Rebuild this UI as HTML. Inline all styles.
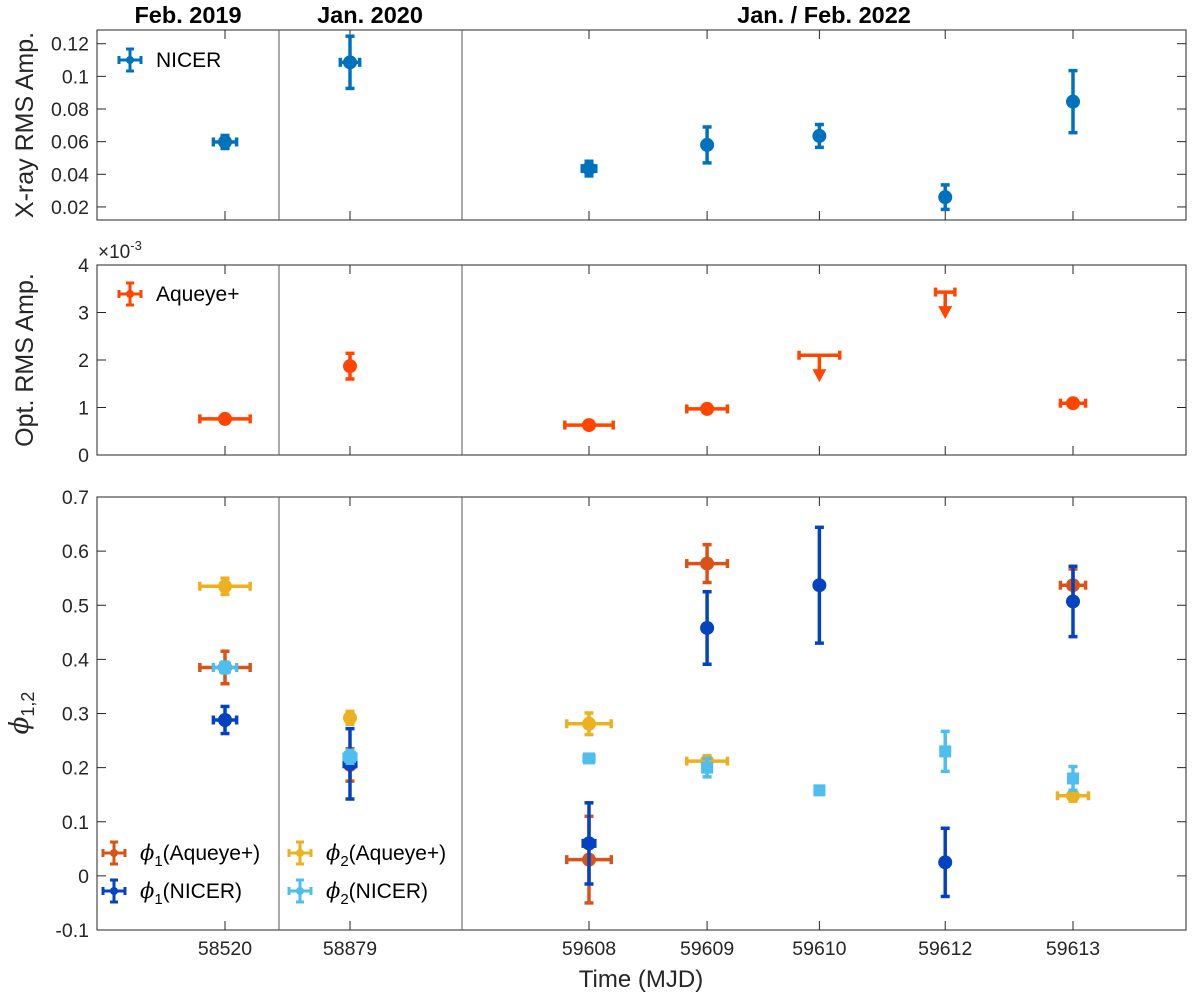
<!DOCTYPE html>
<html><head><meta charset="utf-8"><style>
html,body{margin:0;padding:0;background:#fff;}
svg text{font-family:"Liberation Sans",Helvetica,Arial,sans-serif;}
</style></head><body>
<svg id="chart" width="1200" height="995" xmlns="http://www.w3.org/2000/svg"></svg>
<script>
// ---- data ----
const tickVals = [58520.3, 58879.3, 59608.0, 59609.22, 59610.38, 59611.68, 59613.0];
const tickLabels = ["58520","58879","59608","59609","59610","59612","59613"];
const epochLabels = ["Feb. 2019","Jan. 2020","Jan. / Feb. 2022"];
// X-ray NICER RMS
const xrT   = [58520.3, 58879.3, 59608.0, 59609.22, 59610.38, 59611.68, 59613.0];
const xrV   = [0.0598, 0.1086, 0.0435, 0.058, 0.0635, 0.026, 0.0845];
const xrE   = [0.004, 0.016, 0.0045, 0.011, 0.007, 0.0075, 0.019];
const xrTE  = [0.12, 0.1, 0.07, 0, 0, 0, 0];
// Optical Aqueye+ RMS (x1e-3)
const opT   = [58520.3, 58879.3, 59608.0, 59609.22, 59613.0];
const opV   = [0.76, 1.87, 0.63, 0.97, 1.09];
const opE   = [0.05, 0.27, 0.06, 0.06, 0.08];
const opTE  = [0.26, 0.02, 0.25, 0.21, 0.13];
const ulT   = [59610.38, 59611.68];
const ulV   = [2.1, 3.43];
const ulTE  = [0.21, 0.1];
// phases
const p1aT = [58520.3, 58879.3, 59608.0, 59609.22, 59613.0];
const p1aV = [0.385, 0.205, 0.03, 0.577, 0.537];
const p1aE = [0.03, 0.03, 0.08, 0.035, 0.03];
const p1aTE= [0.26, 0.02, 0.23, 0.21, 0.13];
const p1nT = [58520.3, 58879.3, 59608.0, 59609.22, 59610.38, 59611.68, 59613.0];
const p1nV = [0.288, 0.207, 0.06, 0.458, 0.537, 0.025, 0.507];
const p1nE = [0.025, 0.065, 0.075, 0.067, 0.107, 0.063, 0.065];
const p1nTE= [0.12, 0.06, 0.06, 0, 0, 0, 0];
const p2aT = [58520.3, 58879.3, 59608.0, 59609.22, 59613.0];
const p2aV = [0.535, 0.292, 0.281, 0.212, 0.148];
const p2aE = [0.015, 0.012, 0.02, 0.01, 0.01];
const p2aTE= [0.26, 0.02, 0.23, 0.21, 0.16];
const p2nT = [58520.3, 58879.3, 59608.0, 59609.22, 59610.38, 59611.68, 59613.0];
const p2nV = [0.385, 0.22, 0.217, 0.2, 0.158, 0.23, 0.18];
const p2nE = [0.01, 0.012, 0.005, 0.017, 0.005, 0.037, 0.022];
const p2nTE= [0.12, 0.06, 0.05, 0, 0, 0, 0];

// ---- scales ----
const L=97, R=1186, PXD=96.8;
function xs(t){
  if(t<58700) return 225+(t-58520.3)*PXD;
  if(t<59300) return 350+(t-58879.3)*PXD;
  return 589+(t-59608.0)*PXD;
}
const panels=[
  {top:30,bot:220,min:0.012,max:0.1284,ticks:[0.02,0.04,0.06,0.08,0.1,0.12],fmt:v=>String(+v.toFixed(2))},
  {top:265,bot:455,min:0,max:4,ticks:[0,1,2,3,4],fmt:v=>String(v)},
  {top:497,bot:930,min:-0.1,max:0.7,ticks:[-0.1,0,0.1,0.2,0.3,0.4,0.5,0.6,0.7],fmt:v=>String(+v.toFixed(1))}
];
function ys(p,v){return p.bot-(v-p.min)/(p.max-p.min)*(p.bot-p.top);}

const svg=document.getElementById('chart');
const NS='http://www.w3.org/2000/svg';
function el(tag,attrs,parent){const e=document.createElementNS(NS,tag);for(const k in attrs)e.setAttribute(k,attrs[k]);(parent||svg).appendChild(e);return e;}

panels.forEach((p,i)=>{
  const g=el('g',{});
  
  
  const r=el('rect',{x:L,y:p.top,width:R-L,height:p.bot-p.top,fill:'none',stroke:'#262626','stroke-width':1},g);
  
  
  [279,462].forEach(xd=>{
    const d=el('line',{x1:xd,x2:xd,y1:p.top,y2:p.bot,stroke:'#555','stroke-width':1},g);
    
    
  });
  p.ticks.forEach(v=>{
    const y=ys(p,v);
    el('line',{x1:L,x2:L+9,y1:y,y2:y,stroke:'#262626'},g);
    el('line',{x1:R,x2:R-9,y1:y,y2:y,stroke:'#262626'},g);
    const t=el('text',{x:L-8,y:y+7,'text-anchor':'end','font-size':19.5,fill:'#262626'},g);
    t.textContent=p.fmt(v);
    
    
  });
  tickVals.forEach(tv=>{
    const x=xs(tv);
    el('line',{x1:x,x2:x,y1:p.bot,y2:p.bot-9,stroke:'#262626'},g);
    el('line',{x1:x,x2:x,y1:p.top,y2:p.top+9,stroke:'#262626'},g);
  });
});
tickVals.forEach((tv,i)=>{
  const t=el('text',{x:xs(tv),y:955,'text-anchor':'middle','font-size':19.5,fill:'#262626'});
  t.textContent=tickLabels[i];
  
  
});
[188,370,824].forEach((x,i)=>{
  const t=el('text',{x:x,y:23,'text-anchor':'middle','font-size':23.5,'font-weight':'bold',fill:'#000'});
  t.textContent=epochLabels[i];
  
  
});
function title(txt,x,y,rot,name,size){
  const t=el('text',{x:x,y:y,'text-anchor':'middle','font-size':size||25,fill:'#262626',transform:rot?`rotate(-90 ${x} ${y})`:''});
  t.innerHTML=txt;
  
  
  return t;
}
title('X-ray RMS Amp.',33,125,true,'y-axis-title-xray');
title('Opt. RMS Amp.',33,360,true,'y-axis-title-optical');
title('<tspan font-style="italic" font-family="DejaVu Serif, serif">ϕ</tspan><tspan font-size="18" dy="6">1,2</tspan>',28,713,true,'y-axis-title-phase',26);
title('Time (MJD)',641,987,false,'x-axis-title',24);
const ex=el('text',{x:98,y:258,'font-size':19,fill:'#262626'});
ex.innerHTML='×10<tspan font-size="13" dy="-8">-3</tspan>';



function series(p,T,V,E,TE,color,shape,name){
  const g=el('g',{});
  
  
  T.forEach((t,i)=>{
    const x=xs(t),y=ys(p,V[i]);
    const y1=ys(p,V[i]-E[i]),y2=ys(p,V[i]+E[i]);
    const pg=el('g',{stroke:color,'stroke-width':3.5,fill:color},g);
    
    
    el('line',{x1:x,x2:x,y1:y1,y2:y2},pg);
    el('line',{x1:x-4.5,x2:x+4.5,y1:y1,y2:y1},pg);
    el('line',{x1:x-4.5,x2:x+4.5,y1:y2,y2:y2},pg);
    if(TE[i]>0){
      const xa=xs(t-TE[i]),xb=xs(t+TE[i]);
      el('line',{x1:xa,x2:xb,y1:y,y2:y},pg);
      el('line',{x1:xa,x2:xa,y1:y-4.5,y2:y+4.5},pg);
      el('line',{x1:xb,x2:xb,y1:y-4.5,y2:y+4.5},pg);
    }
    if(shape==='s') el('rect',{x:x-6,y:y-6,width:12,height:12,stroke:'none'},pg);
    else el('circle',{cx:x,cy:y,r:7,stroke:'none'},pg);
  });
}
series(panels[0],xrT,xrV,xrE,xrTE,'#0072BD','c','nicer-rms-series');
series(panels[1],opT,opV,opE,opTE,'#FF4500','c','aqueye-rms-series');
ulT.forEach((t,i)=>{
  const p=panels[1],x=xs(t),y=ys(p,ulV[i]);
  const g=el('g',{stroke:'#FF4500','stroke-width':3.5,fill:'#FF4500'});
  
  
  const xa=xs(t-ulTE[i]),xb=xs(t+ulTE[i]);
  el('line',{x1:xa,x2:xb,y1:y,y2:y},g);
  el('line',{x1:xa,x2:xa,y1:y-4.5,y2:y+4.5},g);
  el('line',{x1:xb,x2:xb,y1:y-4.5,y2:y+4.5},g);
  el('line',{x1:x,x2:x,y1:y,y2:y+16},g);
  el('path',{d:`M${x-7} ${y+14} L${x+7} ${y+14} L${x} ${y+27} Z`,stroke:'none'},g);
});
const P=panels[2];
series(P,p1aT,p1aV,p1aE,p1aTE,'#D95319','c','phi1-aqueye-series');
series(P,p2aT,p2aV,p2aE,p2aTE,'#EDB120','c','phi2-aqueye-series');
series(P,p1nT,p1nV,p1nE,p1nTE,'#0343C2','c','phi1-nicer-series');
series(P,p2nT,p2nV,p2nE,p2nTE,'#4DBEEE','s','phi2-nicer-series');

function legend(x,y,color,html,name){
  const g=el('g',{});
  
  
  const s=el('g',{stroke:color,'stroke-width':3,fill:color},g);
  el('line',{x1:x-11,x2:x+11,y1:y,y2:y},s);
  el('line',{x1:x,x2:x,y1:y-11,y2:y+11},s);
  el('line',{x1:x-11,x2:x-11,y1:y-4,y2:y+4},s);
  el('line',{x1:x+11,x2:x+11,y1:y-4,y2:y+4},s);
  el('line',{x1:x-4,x2:x+4,y1:y-11,y2:y-11},s);
  el('line',{x1:x-4,x2:x+4,y1:y+11,y2:y+11},s);
  el('circle',{cx:x,cy:y,r:4,stroke:'none'},s);
  const t=el('text',{x:x+26,y:y+7,'font-size':21,fill:'#000'},g);
  t.innerHTML=html;
}
legend(130,60,'#0072BD','NICER','legend-nicer');
legend(130,294,'#FF4500','Aqueye+','legend-aqueye');
const phi=n=>`<tspan font-style="italic" font-family="DejaVu Serif, serif">ϕ</tspan><tspan font-size="15" dy="6">${n}</tspan><tspan dy="-6">`;
legend(114,853,'#D95319',phi(1)+'(Aqueye+)</tspan>','legend-phi1-aqueye');
legend(114,891,'#0343C2',phi(1)+'(NICER)</tspan>','legend-phi1-nicer');
legend(300,853,'#EDB120',phi(2)+'(Aqueye+)</tspan>','legend-phi2-aqueye');
legend(300,891,'#4DBEEE',phi(2)+'(NICER)</tspan>','legend-phi2-nicer');
</script>
</body></html>
